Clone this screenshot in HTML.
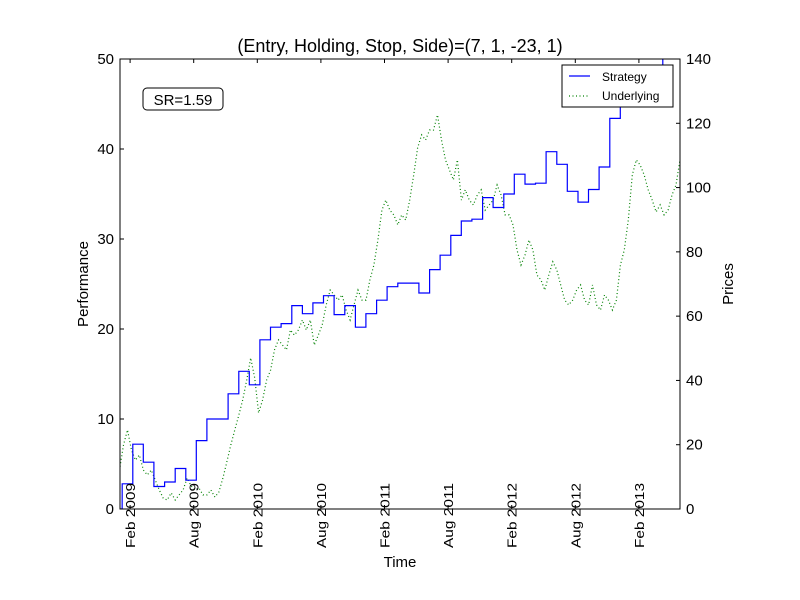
<!DOCTYPE html>
<html><head><meta charset="utf-8"><style>
body{margin:0;background:#fff}
svg{display:block;font-family:"Liberation Sans","DejaVu Sans",sans-serif}
</style></head><body>
<svg id="c" width="800" height="600" xmlns="http://www.w3.org/2000/svg">
<rect width="800" height="600" fill="#fff"/>
</svg>
<script>
const tickLabels=["Feb 2009","Aug 2009","Feb 2010","Aug 2010","Feb 2011","Aug 2011","Feb 2012","Aug 2012","Feb 2013"];
const tickMonths=[1,7,13,19,25,31,37,43,49];
const perfTicks=[0,10,20,30,40,50];
const priceTicks=[0,20,40,60,80,100,120,140];
const strategy=[2.8,7.2,5.2,2.5,3.0,4.5,3.2,7.6,10.0,10.0,12.8,15.3,13.8,18.8,20.2,20.6,22.6,21.7,22.9,23.7,21.6,22.6,20.2,21.7,23.2,24.7,25.1,25.1,24.0,26.6,28.2,30.4,32.0,32.2,34.6,33.5,35.0,37.2,36.1,36.2,39.7,38.3,35.3,34.1,35.5,38.0,43.4,47.5,48.0,48.5,49.0,51];
const underlying=[12.1,19.9,24.6,18.4,15.2,16.8,12.1,10.6,12.1,9.0,5.9,3.4,2.8,5.0,2.8,4.4,5.9,9.6,7.2,5.9,6.5,4.4,4.4,5.9,3.7,5.3,9.6,14.6,19.9,24.6,29.2,33.9,40.1,47.0,40.8,29.9,33.9,40.1,43.2,49.5,52.6,51.0,49.5,55.7,54.1,55.7,58.8,55.7,58.8,51.0,54.1,57.2,63.5,68.1,66.6,65.0,66.6,61.9,58.8,63.5,68.1,65.0,65.0,71.3,75.9,83.7,93.0,96.1,93.0,91.5,88.4,91.5,89.9,96.1,103.9,112.3,116.4,114.8,117.9,117.9,122.6,114.8,108.6,105.5,102.4,108.6,96.1,99.3,96.1,94.6,97.7,99.3,93.0,94.6,96.1,100.8,97.7,91.5,91.5,88.4,80.6,75.9,79.0,83.7,80.6,72.8,71.3,68.1,72.8,76.9,74.4,69.7,65.0,63.5,65.0,68.1,69.7,65.0,63.5,69.7,63.5,61.9,66.6,65.0,61.9,65.0,75.9,80.6,89.9,103.9,108.6,107.0,103.9,99.3,96.1,92.4,94.6,91.5,93.0,97.7,100.8,108.6];

const NS="http://www.w3.org/2000/svg";
const svg=document.getElementById('c');
const L=120,R=680,T=59,B=509;
const X0=119.5,PXM=10.6,MAXM=(R-X0)/PXM;
const x=m=>X0+m*PXM;
const yP=v=>B-(v/50)*(B-T);
const yR=v=>B-(v/140)*(B-T);
function mk(t,a,p){const e=document.createElementNS(NS,t);for(const k in a)e.setAttribute(k,a[k]);(p||svg).appendChild(e);return e;}

const defs=mk('defs',{});
const cp=mk('clipPath',{id:'clip'},defs);mk('rect',{x:L,y:T,width:R-L,height:B-T},cp);
const plot=mk('g',{'clip-path':'url(#clip)'});



let d='';
underlying.forEach((v,i)=>{const m=i*MAXM/(underlying.length-1);d+=(i?'L':'M')+x(m).toFixed(1)+','+yR(v).toFixed(1);});
const ul=mk('path',{d:d,fill:'none',stroke:'#008000','stroke-width':1.2,'stroke-dasharray':'1,2.5'},plot);



let s='M'+x(0)+','+yP(0)+'L'+x(0.25)+','+yP(0);
strategy.forEach((v,k)=>{const m0=k+0.25,m1=Math.min(k+1.25,MAXM+1);s+='L'+x(m0).toFixed(1)+','+yP(v).toFixed(1)+'L'+x(m1).toFixed(1)+','+yP(v).toFixed(1);});
const sl=mk('path',{d:s,fill:'none',stroke:'#0000ff','stroke-width':1.2},plot);



const fr=mk('rect',{x:L,y:T,width:R-L,height:B-T,fill:'none',stroke:'#000','stroke-width':1});



tickMonths.forEach((m,i)=>{
  const xx=x(m);
  mk('line',{x1:xx,x2:xx,y1:B,y2:B-4,stroke:'#000'});
  mk('line',{x1:xx,x2:xx,y1:T,y2:T+4,stroke:'#000'});
  const t=mk('text',{x:0,y:0,transform:`translate(${xx+5},548) rotate(-90)`,'font-size':13,textLength:65,lengthAdjust:'spacingAndGlyphs'});
  t.textContent=tickLabels[i];
  
  
});
perfTicks.forEach(v=>{
  const yy=yP(v);
  mk('line',{x1:L,x2:L+4,y1:yy,y2:yy,stroke:'#000'});
  const t=mk('text',{x:L-6,y:yy+5,'font-size':15,'text-anchor':'end'});t.textContent=v;
  
  
});
priceTicks.forEach(v=>{
  const yy=yR(v);
  mk('line',{x1:R,x2:R-4,y1:yy,y2:yy,stroke:'#000'});
  const t=mk('text',{x:R+6,y:yy+5,'font-size':15}); t.textContent=v;
  
  
});

let t;
t=mk('text',{x:400,y:52,'font-size':18,'text-anchor':'middle'});t.textContent='(Entry, Holding, Stop, Side)=(7, 1, -23, 1)';


t=mk('text',{x:400,y:567,'font-size':15,'text-anchor':'middle'});t.textContent='Time';


t=mk('text',{x:0,y:0,transform:'translate(88,284) rotate(-90)','font-size':15,'text-anchor':'middle'});t.textContent='Performance';


t=mk('text',{x:0,y:0,transform:'translate(733,284) rotate(-90)','font-size':15,'text-anchor':'middle'});t.textContent='Prices';



const sr=mk('g',{});


mk('rect',{x:143,y:88,width:80,height:22,rx:4,fill:'#fff',stroke:'#000','stroke-width':1},sr);
t=mk('text',{x:183,y:105,'font-size':15,'text-anchor':'middle'},sr);t.textContent='SR=1.59';

const lg=mk('g',{});


mk('rect',{x:562,y:65,width:111,height:42,fill:'#fff',stroke:'#000','stroke-width':1},lg);
mk('line',{x1:569,x2:590,y1:76,y2:76,stroke:'#0000ff','stroke-width':1.2},lg);
mk('line',{x1:569,x2:590,y1:96,y2:96,stroke:'#008000','stroke-width':1.2,'stroke-dasharray':'1,2.5'},lg);
t=mk('text',{x:602,y:81,'font-size':12},lg);t.textContent='Strategy';


t=mk('text',{x:602,y:100,'font-size':12},lg);t.textContent='Underlying';


</script>
</body></html>
